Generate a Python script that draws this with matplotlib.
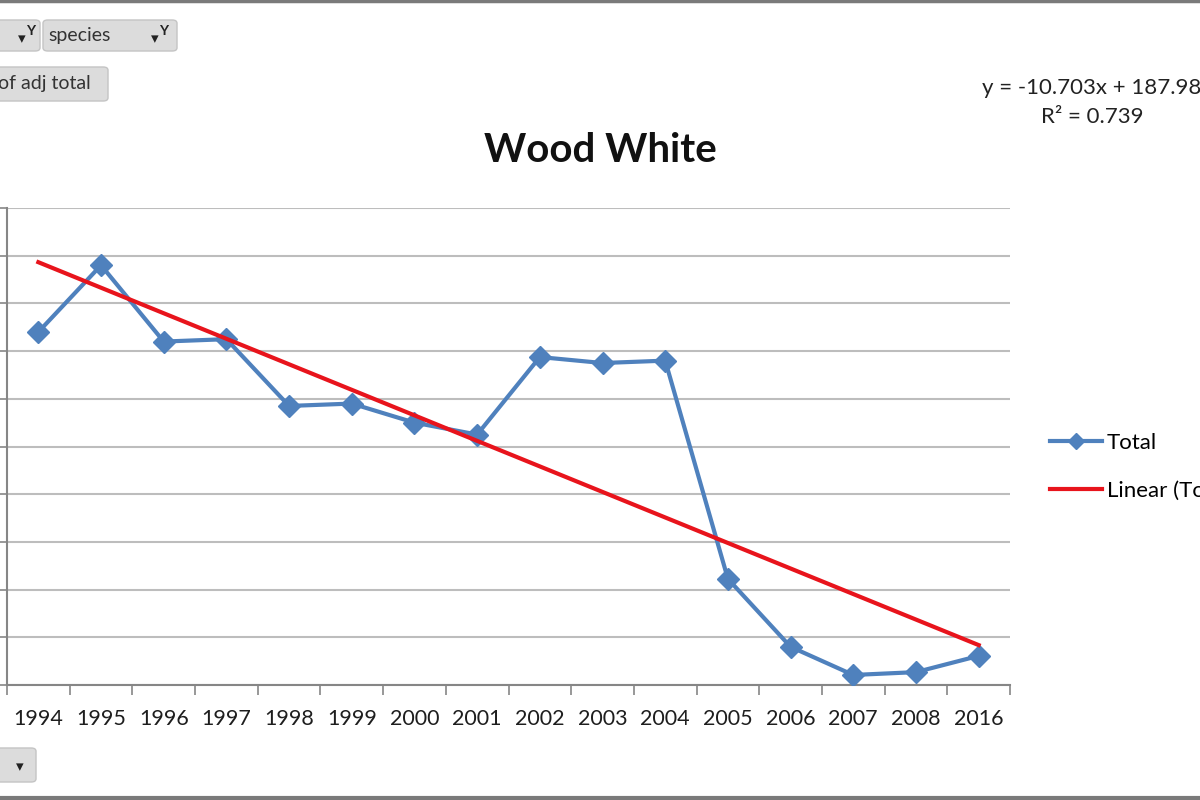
import matplotlib
matplotlib.use("Agg")
import matplotlib.pyplot as plt
from matplotlib.patches import FancyBboxPatch
import numpy as np

years = ["1994", "1995", "1996", "1997", "1998", "1999", "2000", "2001",
         "2002", "2003", "2004", "2005", "2006", "2007", "2008", "2016"]
totals = [148, 176, 144, 145, 117, 118, 110, 105,
          137.5, 135, 136, 44.5, 16, 4.2, 5.4, 12.2]
trend_slope = -10.703
trend_intercept = 187.98
r_squared = 0.739
y_ticks = [0, 20, 40, 60, 80, 100, 120, 140, 160, 180, 200]

plt.rcParams['font.family'] = ['Lato', 'DejaVu Sans']

fig = plt.figure(figsize=(12, 8), dpi=100)
W, H = 1200, 800

def fx(px):
    return px / W

def fy(py):
    return 1 - py / H

ax = fig.add_axes([fx(7), fy(685), fx(1010) - fx(7), fy(208) - fy(685)])

x = np.arange(1, len(years) + 1)
blue = "#4F81BD"
red = "#E8141C"
ax.plot(x, totals, color=blue, lw=3, marker='D', markersize=11,
        markeredgecolor=blue, label="Total", zorder=3)
xt = np.array([x[0], x[-1]])
ax.plot(xt, trend_slope * xt + trend_intercept, color=red, lw=3,
        label="Linear (Total)", zorder=4)

ax.set_xlim(0.5, len(years) + 0.5)
ax.set_ylim(0, 200)
ax.set_yticks(y_ticks)
ax.set_yticklabels([])
ax.yaxis.grid(True, color="#BDBDBD", lw=1.5)
ax.set_axisbelow(True)
ax.tick_params(axis='y', length=6, color="#868686", width=1.2)
ax.set_xticks(x)
ax.set_xticklabels(years, fontsize=15.5, color="#1E1E1E")
ax.set_xticks(np.arange(0.5, len(years) + 1, 1), minor=True)
ax.tick_params(axis='x', which='major', length=0, pad=17)
ax.tick_params(axis='x', which='minor', length=7, color="#868686", width=1.2)
for s in ['top', 'right']:
    ax.spines[s].set_visible(False)
for s in ['left', 'bottom']:
    ax.spines[s].set_color("#868686")
    ax.spines[s].set_linewidth(1.5)

fig.text(fx(600), fy(150), "Wood White", fontsize=29, fontweight='bold',
         ha='center', va='center', color="#111111")

fig.text(fx(982), fy(88), "y = %.3fx + %.2f" % (trend_slope, trend_intercept),
         fontsize=16, ha='left', va='center', color="#222222")
fig.text(fx(1092), fy(117), "R² = %.3f" % r_squared,
         fontsize=16, ha='center', va='center', color="#222222")

leg = ax.legend(loc='upper left', bbox_to_anchor=(fx(1030), fy(413)),
                bbox_transform=fig.transFigure, frameon=False, fontsize=16,
                handlelength=2.35, labelspacing=1.25, handletextpad=0.2,
                borderpad=0.4, markerscale=0.7)

# pivot field buttons
def button(x0, y0, x1, y1, text=None, tx=None):
    p = FancyBboxPatch((fx(x0), fy(y1)), fx(x1) - fx(x0), fy(y0) - fy(y1),
                       boxstyle="round,pad=0,rounding_size=0.004",
                       transform=fig.transFigure, facecolor="#DCDCDC",
                       edgecolor="#C4C4C4", lw=1, zorder=5)
    fig.patches.append(p)
    if text:
        fig.text(fx(tx), fy((y0 + y1) / 2), text, fontsize=14,
                 ha='left', va='center', color="#333333", zorder=6)

button(-10, 20, 40, 51)
button(43, 20, 177, 51, "species", 48)
button(-10, 67, 108, 101, "of adj total", -2)
button(-10, 748, 36, 782)
for px, py in [(22, 39), (155, 39), (20, 767)]:
    fig.text(fx(px), fy(py), "▾", fontsize=11, ha='center', va='center',
             color="#222222", zorder=6)
for px in [31, 164]:
    fig.text(fx(px), fy(31), "Y", fontsize=10, ha='center', va='center',
             color="#222222", zorder=6, fontweight='bold')

# frame borders
fig.add_artist(plt.Line2D([0, 1], [fy(1), fy(1)], color="#7A7A7A", lw=2.5,
                          transform=fig.transFigure))
fig.add_artist(plt.Line2D([0, 1], [fy(798), fy(798)], color="#7A7A7A", lw=3,
                          transform=fig.transFigure))

fig.savefig("out.png", dpi=100)
